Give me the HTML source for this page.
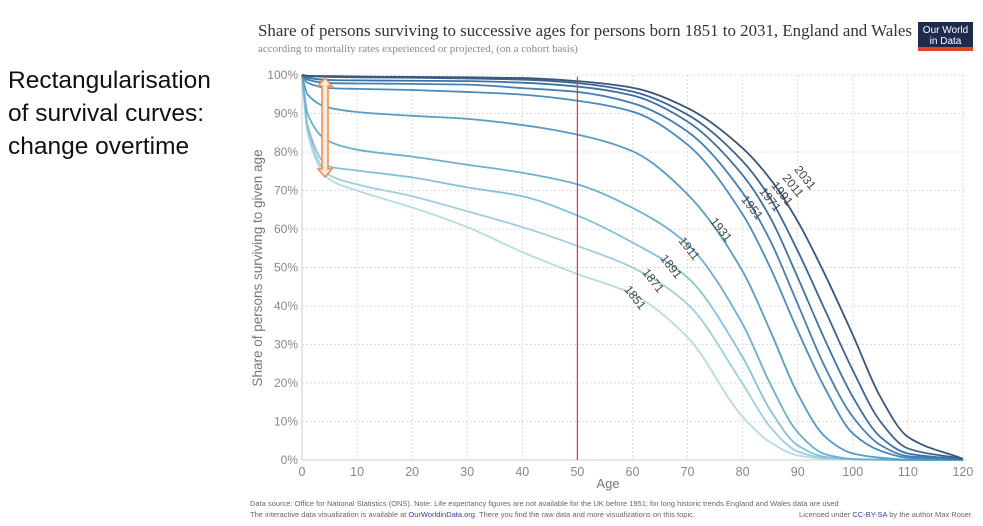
<!DOCTYPE html>
<html><head><meta charset="utf-8">
<style>
html,body{margin:0;padding:0;background:#fff;}
body{width:983px;height:526px;position:relative;overflow:hidden;font-family:"Liberation Sans",sans-serif;}
.side{position:absolute;left:8px;top:64px;font-size:24.5px;line-height:33px;color:#111;}
</style></head>
<body>
<div class="side">Rectangularisation<br>of survival curves:<br>change overtime</div>
<svg id="chart" width="983" height="526" style="position:absolute;left:0;top:0">
<text x="258" y="36" font-family="Liberation Serif,serif" font-size="16.6" fill="#333" textLength="654" lengthAdjust="spacingAndGlyphs">Share of persons surviving  to successive ages for persons born 1851 to 2031, England and Wales</text>
<text x="258" y="52" font-family="Liberation Serif,serif" font-size="11" fill="#888">according to mortality rates experienced or projected, (on a cohort basis)</text>
<g>
<rect x="918" y="22" width="55" height="25" fill="#1d2b4f"/>
<rect x="918" y="47" width="55" height="4" fill="#e0452a"/>
<text x="945.5" y="33" text-anchor="middle" font-size="10" fill="#fff">Our World</text>
<text x="945.5" y="44" text-anchor="middle" font-size="10" fill="#fff">in Data</text>
</g>
<g id="grid"></g>
<g id="lines"></g>
<g id="labels"></g>
<text transform="translate(262,268) rotate(-90)" text-anchor="middle" font-size="13.5" fill="#777">Share of persons surviving to given age</text>
<text x="608" y="488" text-anchor="middle" font-size="13" fill="#777">Age</text>
<text x="250" y="506" font-size="7.5" fill="#666">Data source: Office for National Statistics (ONS). Note: Life expectancy figures are not available for the UK before 1951; for long historic trends England and Wales data are used</text>
<text x="250" y="517" font-size="7.5" fill="#666">The interactive data visualization is available at <tspan fill="#3b3b9b">OurWorldinData.org</tspan>. There you find the raw data and more visualizations on this topic.</text>
<text x="973" y="517" text-anchor="end" font-size="7.5" fill="#666">Licensed under <tspan fill="#3b3b9b">CC-BY-SA</tspan> by the author Max Roser.</text>
<g fill="#fbe9e0" stroke="#ef8a4c" stroke-width="1.5">
<polygon points="325,78 332,86 328,86 328,169 332,169 325,177 318,169 322,169 322,86 318,86"/>
</g>
</svg>
<script>
const ages=[0,1,5,10,20,30,40,50,60,70,80,85,90,95,100,105,110,120];
const cohorts=["1851","1871","1891","1911","1931","1951","1971","1991","2011","2031"];
const s1851=[100,85,72.9,70,65.6,60.5,54,48.3,43.1,31.9,11.2,4.6,1.2,0.3,0.1,0,0,0];
const s1871=[100,86,74,71.6,68.5,64.6,60.5,55.6,50,40.5,19.8,8.6,2.2,0.5,0.2,0.1,0,0];
const s1891=[100,87,76.2,75.2,73.4,70.8,68.5,63.5,56.5,47.4,26.7,13,3.8,0.8,0.2,0.1,0,0];
const s1911=[100,90,82.7,80.6,78.8,76.7,74.6,71.6,65.5,56,35.3,19.8,7.2,1.5,0.3,0.1,0,0];
const s1931=[100,95,91.5,90.4,89.4,88.6,87,84.5,80.2,69,49,33.6,17.2,6,1.7,0.6,0.1,0];
const s1951=[100,98,96.6,96.4,96.1,95.6,94.9,93.3,90.5,81.9,63.8,50,33.6,18.5,6.9,2.4,0.6,0.1];
const s1971=[100,98.8,97.9,97.8,97.7,97.5,96.6,95.6,92.7,85.3,69.4,57,40.5,24,11.2,3.9,1,0.2];
const s1991=[100,99.3,98.7,98.6,98.5,98.4,98,97,94.7,87.9,74,63,47.4,31,16.4,6,1.7,0.2];
const s2011=[100,99.7,99.5,99.4,99.3,99.1,98.8,97.9,95.7,89.7,77.6,68,54.3,38.8,23.3,10,3,0.3];
const s2031=[100,99.8,99.7,99.6,99.5,99.4,99.2,98.4,96.7,91.4,81,73,62,48,32.5,16.4,6,0.3];
const series=[s1851,s1871,s1891,s1911,s1931,s1951,s1971,s1991,s2011,s2031];
const xTicks=[0,10,20,30,40,50,60,70,80,90,100,110,120];
const yTicks=[0,10,20,30,40,50,60,70,80,90,100];
const colors=["#b6dbe3","#9dcfdc","#86c1d6","#6eafcf","#5a9cc4","#4b8bbb","#4580b2","#3f72a3","#3c6592","#3a5679"];
const labelPos=[[632,300],[650,283],[668,269],[686,251],[718,232],[749,210],[767,202],[779,196],[790,188],[802,180]];
const NS="http://www.w3.org/2000/svg";
const X=a=>302+a*5.508, Y=v=>460-v*3.85;
function mk(t,at,p){const e=document.createElementNS(NS,t);for(const k in at)e.setAttribute(k,at[k]);p.appendChild(e);return e;}
const grid=document.getElementById('grid');
yTicks.forEach(v=>{
  const l=mk('line',{x1:302,x2:966,y1:Y(v),y2:Y(v),stroke:v===0?'#ccc':'#ddd','stroke-dasharray':v===0?'':'2,2'},grid);
  
  
  const t=mk('text',{x:298,y:Y(v)+4,'text-anchor':'end','font-size':12,fill:'#888'},grid);
  t.textContent=v+'%';
  
  
});
xTicks.forEach(a=>{
  const l=mk('line',{x1:X(a),x2:X(a),y1:Y(100),y2:Y(0),stroke:a===0?'#ccc':'#ddd','stroke-dasharray':a===0?'':'2,2'},grid);
  
  
  const t=mk('text',{x:X(a),y:476,'text-anchor':'middle','font-size':12.5,fill:'#888'},grid);
  t.textContent=a;
  
  
});
function path(vals){
  const xs=ages.map(X), ys=vals.map(Y), n=xs.length;
  const d=[],m=[];
  for(let i=0;i<n-1;i++)d.push((ys[i+1]-ys[i])/(xs[i+1]-xs[i]));
  m[0]=d[0];m[n-1]=d[n-2];
  for(let i=1;i<n-1;i++){
    if(d[i-1]*d[i]<=0)m[i]=0;
    else{const h0=xs[i]-xs[i-1],h1=xs[i+1]-xs[i];const w1=2*h1+h0,w2=h1+2*h0;m[i]=(w1+w2)/(w1/d[i-1]+w2/d[i]);}
  }
  let s='M'+xs[0]+','+ys[0];
  for(let i=0;i<n-1;i++){
    const h=(xs[i+1]-xs[i])/3;
    s+=' C'+(xs[i]+h)+','+(ys[i]+m[i]*h)+' '+(xs[i+1]-h)+','+(ys[i+1]-m[i+1]*h)+' '+xs[i+1]+','+ys[i+1];
  }
  return s;
}
const lines=document.getElementById('lines');
series.forEach((s,i)=>{
  const e=mk('path',{d:path(s),fill:'none',stroke:colors[i],'stroke-width':1.8},lines);
  
  
});
const red=mk('line',{x1:X(50),x2:X(50),y1:Y(100)+2,y2:Y(0),stroke:'#ff2a2a','stroke-width':1.2},lines);


const labels=document.getElementById('labels');
cohorts.forEach((c,i)=>{
  const [x,y]=labelPos[i];
  const t=mk('text',{x:x,y:y,'text-anchor':'middle','font-size':12,fill:'#444',transform:`rotate(52 ${x} ${y})`},labels);
  t.textContent=c;
  
  
});
</script>
</body></html>
